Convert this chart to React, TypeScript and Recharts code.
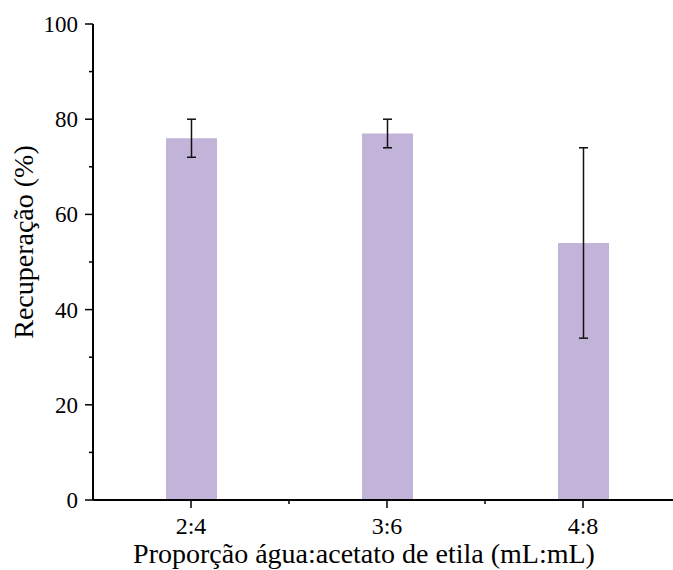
import React from 'react';
import { BarChart, Bar, XAxis, YAxis, ErrorBar } from 'recharts';

// Recovery (%) for each water:ethyl acetate ratio, with error ranges
const ratios = ['2:4', '3:6', '4:8'];
const recovery = [76, 77, 54];
const recoveryError = [4, 3, 20];
const yTicks = [0, 10, 20, 30, 40, 50, 60, 70, 80, 90, 100];
const yLabelTicks = [0, 20, 40, 60, 80, 100];

const data = ratios.map((ratio, i) => ({
  ratio,
  recovery: recovery[i],
  err: recoveryError[i],
}));

// The plot runs a little past the right edge of the frame, so the chart is
// wider than the clipping wrapper around it.
const FRAME_W = 673;
const FRAME_H = 570;
const CHART_W = 681;
const CHART_H = 570;
const MARGIN = { top: 24, right: 0, left: 0, bottom: 0 };
const Y_AXIS_W = 93;
const X_AXIS_H = 70;
const TICK_SIZE = 8;
const MINOR_SIZE = 4;
const TICK_MARGIN_X = 9;
const TICK_MARGIN_Y = 7;
const FONT = '"Liberation Serif", "Times New Roman", serif';
const X_TICK_FONT = 24;
const Y_TICK_FONT = 23;
const TITLE_FONT = 28;
const BAR_COLOR = '#c2b3d8';

const plotWidth = CHART_W - MARGIN.left - MARGIN.right - Y_AXIS_W;

function YTick(props: any) {
  const { x, y, payload } = props;
  const axisX = x + TICK_MARGIN_Y + TICK_SIZE;
  const major = yLabelTicks.includes(payload.value);
  return (
    <g>
      <line
        x1={axisX - (major ? TICK_SIZE : MINOR_SIZE)}
        x2={axisX}
        y1={y}
        y2={y}
        stroke="#000"
        strokeWidth={1.5}
      />
      {major && (
        <text
          x={x}
          y={y}
          dy="0.35em"
          textAnchor="end"
          fontFamily={FONT}
          fontSize={Y_TICK_FONT}
          fill="#000"
        >
          {payload.value}
        </text>
      )}
    </g>
  );
}

function XTick(props: any) {
  const { x, y, payload, index } = props;
  const axisY = y - TICK_MARGIN_X - TICK_SIZE;
  const halfBand = plotWidth / ratios.length / 2;
  return (
    <g>
      <line x1={x} x2={x} y1={axisY} y2={axisY + TICK_SIZE} stroke="#000" strokeWidth={1.5} />
      {index < ratios.length - 1 && (
        <line
          x1={x + halfBand}
          x2={x + halfBand}
          y1={axisY}
          y2={axisY + MINOR_SIZE}
          stroke="#000"
          strokeWidth={1.5}
        />
      )}
      <text
        x={x}
        y={y}
        dy="0.71em"
        textAnchor="middle"
        fontFamily={FONT}
        fontSize={X_TICK_FONT}
        fill="#000"
      >
        {payload.value}
      </text>
    </g>
  );
}

function YTitle(props: any) {
  const { viewBox } = props;
  const cx = viewBox.x + 23;
  const cy = viewBox.y + viewBox.height / 2 - 20;
  return (
    <text
      x={cx}
      y={cy}
      transform={`rotate(-90, ${cx}, ${cy})`}
      textAnchor="middle"
      dominantBaseline="central"
      fontFamily={FONT}
      fontSize={TITLE_FONT}
      fill="#000"
    >
      Recuperação (%)
    </text>
  );
}

function XTitle(props: any) {
  const { viewBox } = props;
  const cx = viewBox.x + viewBox.width / 2 - 23;
  const cy = viewBox.y + 63;
  return (
    <text
      x={cx}
      y={cy}
      textAnchor="middle"
      fontFamily={FONT}
      fontSize={TITLE_FONT}
      fill="#000"
    >
      Proporção água:acetato de etila (mL:mL)
    </text>
  );
}

export default function App() {
  return (
    <div
      style={{
        position: 'absolute',
        left: 0,
        top: 0,
        width: FRAME_W,
        height: FRAME_H,
        overflow: 'hidden',
        background: '#fff',
      }}
    >
      <BarChart width={CHART_W} height={CHART_H} data={data} margin={MARGIN}>
        <XAxis
          dataKey="ratio"
          height={X_AXIS_H}
          axisLine={{ stroke: '#000', strokeWidth: 2 }}
          tickLine={false}
          tickSize={TICK_SIZE}
          tickMargin={TICK_MARGIN_X}
          tick={<XTick />}
          interval={0}
          label={<XTitle />}
        />
        <YAxis
          width={Y_AXIS_W}
          domain={[0, 100]}
          ticks={yTicks}
          interval={0}
          axisLine={{ stroke: '#000', strokeWidth: 2 }}
          tickLine={false}
          tickSize={TICK_SIZE}
          tickMargin={TICK_MARGIN_Y}
          tick={<YTick />}
          label={<YTitle />}
        />
        <Bar dataKey="recovery" fill={BAR_COLOR} barSize={51} isAnimationActive={false}>
          <ErrorBar dataKey="err" width={4.5} stroke="#111" strokeWidth={1.5} isAnimationActive={false} />
        </Bar>
      </BarChart>
    </div>
  );
}
